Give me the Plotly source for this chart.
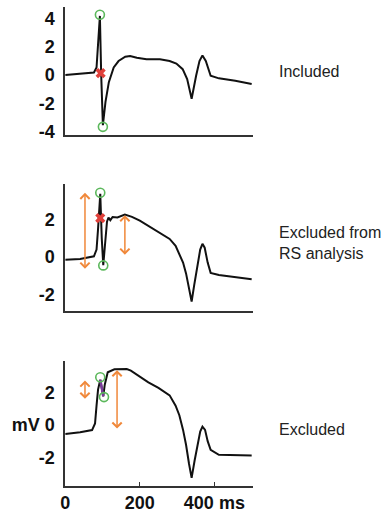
import plotly.graph_objects as go

# ---------------- data ----------------
# Panel 1: "Included"
t1 = [0, 40, 77, 84, 93, 96.5, 101, 108, 117, 130, 143, 161, 174, 192, 218, 254, 280, 298,
      315, 327, 339, 351, 360, 368, 377, 390, 412, 456, 500]
v1 = [0.0, 0.08, 0.19, 0.54, 4.2, 0.0, -3.55, -1.9, -0.5, 0.54, 1.0, 1.31, 1.36, 1.24, 1.12,
      1.12, 1.0, 0.82, 0.42, -0.28, -1.68, -0.05, 1.0, 1.4, 1.0, -0.05, -0.23, -0.4, -0.63]
r1_t = [93, 101]
r1_v = [4.28, -3.67]
x1_t = [95]
x1_v = [0.14]

# Panel 2: "Excluded from RS analysis"
t2 = [0, 40, 77, 84, 88, 94, 98, 102, 106, 112, 116, 121, 127, 140, 160, 179, 200, 223, 250,
      280, 296, 306, 316, 324, 332, 339, 346, 355, 362, 368, 374, 382, 390, 412, 450, 500]
v2 = [-0.14, -0.1, 0.04, 0.4, 1.5, 3.4, 1.0, -0.44, 0.5, 1.9, 2.12, 1.98, 2.15, 2.12, 2.28,
      2.16, 1.95, 1.68, 1.35, 0.97, 0.6, 0.18, -0.3, -0.88, -1.6, -2.39, -1.5, -0.35, 0.4,
      0.71, 0.5, -0.3, -0.85, -0.97, -1.08, -1.2]
r2_t = [94, 102]
r2_v = [3.45, -0.45]
x2_t = [94]
x2_v = [2.09]
arr2 = [(53, 3.45, -0.71), (160, 2.25, 0.04)]

# Panel 3: "Excluded"
t3 = [0, 40, 72, 80, 84, 88, 94, 102, 106, 114, 132, 150, 165, 176, 200, 223, 250, 280, 296,
      306, 316, 324, 332, 339, 347, 355, 362, 368, 375, 382, 390, 412, 450, 500]
v3 = [-0.55, -0.45, -0.31, 0.1, 1.2, 2.2, 2.8, 1.78, 2.5, 3.27, 3.45, 3.45, 3.47, 3.37, 3.0,
      2.65, 2.3, 1.84, 1.2, 0.61, -0.3, -1.22, -2.4, -3.27, -2.2, -1.22, -0.4, -0.1, -0.3,
      -1.0, -1.53, -1.84, -1.86, -1.88]
r3_t = [94, 104]
r3_v = [2.96, 1.73]
p3_t = [94, 98, 102]
p3_v = [2.8, 2.3, 1.78]
arr3 = [(53, 2.76, 1.53), (139, 3.4, -0.31)]

labels = ["Included", "Excluded from<br>RS analysis", "Excluded"]

# ---------------- figure ----------------
BLACK = "#111111"
GREEN = "#5cb85c"
RED = "#e0403a"
ORANGE = "#f0883a"
PURPLE = "#7a3b9a"

fig = go.Figure()

def add_panel(i, t, v, rt, rv, xt=None, xv=None):
    xa = "x" if i == 1 else f"x{i}"
    ya = "y" if i == 1 else f"y{i}"
    fig.add_trace(go.Scatter(x=t, y=v, mode="lines", line=dict(color=BLACK, width=2),
                             xaxis=xa, yaxis=ya, showlegend=False, hoverinfo="skip"))
    if xt:
        fig.add_trace(go.Scatter(x=xt, y=xv, mode="markers",
                                 marker=dict(symbol="x", size=9, color=RED, line=dict(width=0)),
                                 xaxis=xa, yaxis=ya, showlegend=False))
    fig.add_trace(go.Scatter(x=rt, y=rv, mode="markers",
                             marker=dict(symbol="circle-open", size=9, color=GREEN,
                                         line=dict(width=1.6, color=GREEN)),
                             xaxis=xa, yaxis=ya, showlegend=False))

add_panel(1, t1, v1, r1_t, r1_v, x1_t, x1_v)
add_panel(2, t2, v2, r2_t, r2_v, x2_t, x2_v)
fig.add_trace(go.Scatter(x=t3, y=v3, mode="lines", line=dict(color=BLACK, width=2),
                         xaxis="x3", yaxis="y3", showlegend=False))
fig.add_trace(go.Scatter(x=p3_t, y=p3_v, mode="lines", line=dict(color=PURPLE, width=2.5),
                         xaxis="x3", yaxis="y3", showlegend=False))
fig.add_trace(go.Scatter(x=r3_t, y=r3_v, mode="markers",
                         marker=dict(symbol="circle-open", size=9, color=GREEN,
                                     line=dict(width=1.6, color=GREEN)),
                         xaxis="x3", yaxis="y3", showlegend=False))

annotations = []
for idx, arrs in ((2, arr2), (3, arr3)):
    for (xx, ytop, ybot) in arrs:
        annotations.append(dict(x=xx, y=ytop, ax=xx, ay=ybot, xref=f"x{idx}", yref=f"y{idx}",
                                axref=f"x{idx}", ayref=f"y{idx}", text="", showarrow=True,
                                arrowhead=4, startarrowhead=4, arrowside="end+start",
                                arrowsize=1.2, startarrowsize=1.2, arrowwidth=1.5,
                                arrowcolor=ORANGE, standoff=0, startstandoff=0))

label_y = [0.862, 0.529, 0.167]
for lab, yy in zip(labels, label_y):
    annotations.append(dict(x=0.705, y=yy, xref="paper", yref="paper", text=lab,
                            showarrow=False, xanchor="left", yanchor="middle", align="left",
                            font=dict(family="Liberation Sans, Arial, sans-serif", size=16,
                                      color="#222222")))

tickfont = dict(family="Liberation Sans, Arial, sans-serif", size=18, color=BLACK, weight="bold")
xdom = [61 / 391, 251 / 391]
common_x = dict(range=[0, 503], domain=xdom, showline=True, linecolor="#333333", linewidth=1.5,
                showgrid=False, zeroline=False, fixedrange=True)
common_y = dict(showline=True, linecolor="#333333", linewidth=1.5, showgrid=False,
                zeroline=False, tickfont=tickfont, ticks="", ticklabelstandoff=5)

fig.update_layout(
    width=391, height=522,
    margin=dict(l=0, r=0, t=0, b=0),
    paper_bgcolor="white", plot_bgcolor="white",
    xaxis=dict(**common_x, anchor="y", showticklabels=False, ticks=""),
    yaxis=dict(**common_y, anchor="x", domain=[1 - 137 / 522, 1 - 7 / 522],
               range=[-4.28, 4.84], tickvals=[-4, -2, 0, 2, 4],
               ticktext=["-4", "-2", "0", "2", "4"]),
    xaxis2=dict(**common_x, anchor="y2", showticklabels=False, ticks=""),
    yaxis2=dict(**common_y, anchor="x2", domain=[1 - 315 / 522, 1 - 186 / 522],
                range=[-2.92, 3.93], tickvals=[-2, 0, 2], ticktext=["-2", "0", "2"]),
    xaxis3=dict(**common_x, anchor="y3", tickvals=[0, 200, 400],
                ticktext=["0", "200", "400 ms"], tickfont=tickfont, ticks="inside",
                ticklen=4, tickcolor="#333333"),
    yaxis3=dict(**common_y, anchor="x3", domain=[1 - 491.7 / 522, 1 - 365 / 522],
                range=[-3.78, 3.98], tickvals=[-2, 0, 2], ticktext=["-2", "mV 0", "2"]),
    annotations=annotations,
)

fig.write_html("out.html", config={"displayModeBar": False},
               post_script="document.body.style.margin='0';")
